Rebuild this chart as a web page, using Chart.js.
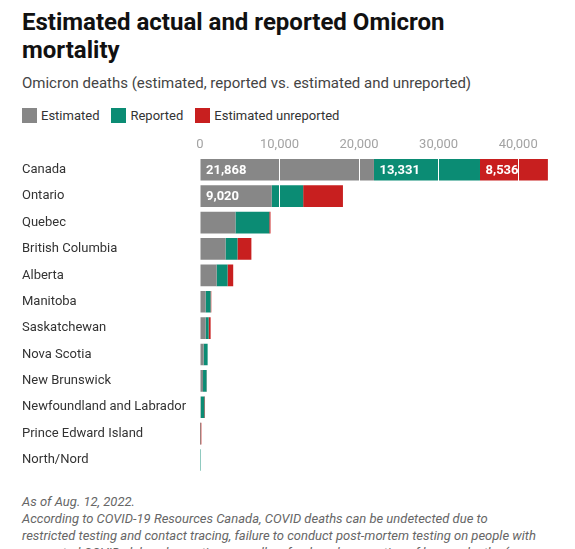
<!DOCTYPE html>
<html>
<head>
<meta charset="utf-8">
<script src="https://cdn.jsdelivr.net/npm/chart.js@4.4.0/dist/chart.umd.min.js"></script>
<style>
  body { margin: 0; background: #fff; font-family: Roboto, sans-serif; width: 575px; height: 549px; overflow: hidden; position: relative; }
  h1 { margin: 0; position: absolute; left: 22px; top: 8px; width: 500px; font-size: 24px; line-height: 28px; font-weight: 700; color: #111; }
  .sub { position: absolute; left: 22px; top: 74px; font-size: 15px; line-height: 18px; color: #444; }
  #legend { position: absolute; left: 22px; top: 108px; display: flex; font-size: 13px; line-height: 15px; color: #333; }
  #legend .item { display: flex; align-items: center; margin-right: 12px; }
  #legend .sw { width: 15px; height: 15px; margin-right: 4px; }
  #wrap { position: absolute; left: 0; top: 127px; width: 575px; height: 357px; }
  .note { position: absolute; left: 22px; top: 493px; width: 545px; font-size: 13px; line-height: 17px; font-style: italic; color: #666; white-space: nowrap; }
</style>
</head>
<body>
<h1>Estimated actual and reported Omicron mortality</h1>
<div class="sub">Omicron deaths (estimated, reported vs. estimated and unreported)</div>
<div id="legend"></div>
<div id="wrap"><canvas id="chart"></canvas></div>
<div class="note">As of Aug. 12, 2022.<br>
According to COVID-19 Resources Canada, COVID deaths can be undetected due to<br>
restricted testing and contact tracing, failure to conduct post-mortem testing on people with<br>
suspected COVID, delayed reporting, as well as frank under reporting of known deaths (e.g.</div>

<script>
const regions = ['Canada', 'Ontario', 'Quebec', 'British Columbia', 'Alberta', 'Manitoba',
    'Saskatchewan', 'Nova Scotia', 'New Brunswick', 'Newfoundland and Labrador',
    'Prince Edward Island', 'North/Nord'];
const estimated = [21868, 9020, 4460, 3210, 2090, 710, 710, 460, 380, 100, 20, 0];
const reported = [13331, 3950, 4250, 1500, 1375, 620, 375, 500, 450, 450, 30, 120];
const unreported = [8536, 5000, 150, 1750, 710, 90, 250, 0, 30, 80, 120, 0];
const seriesNames = ['Estimated', 'Reported', 'Estimated unreported'];
const seriesColors = ['#878787', '#0b8c74', '#c81f1f'];
const xTicks = [0, 10000, 20000, 30000, 40000];

const series = [estimated, reported, unreported];

let legend = document.getElementById('legend');
seriesNames.forEach((name, i) => {
    legend.innerHTML += '<div class="item"><div class="sw" style="background:' + seriesColors[i] +
        '"></div>' + name + '</div>';
});

// white value labels at the start of segments wide enough to hold them
const segmentLabels = {
    id: 'segmentLabels',
    afterDraw(chart) {
        const ctx = chart.ctx;
        ctx.save();
        ctx.font = 'bold 13px Roboto';
        ctx.fillStyle = '#fff';
        ctx.textBaseline = 'middle';
        chart.data.datasets.forEach((ds, di) => {
            chart.getDatasetMeta(di).data.forEach((bar, i) => {
                const text = ds.data[i].toLocaleString('en-US');
                const w = bar.x - bar.base;
                if (w > ctx.measureText(text).width + 16) {
                    ctx.fillText(text, bar.base + 5.5, bar.y + 0.5);
                }
            });
        });
        ctx.restore();
    }
};

let ctx = document.getElementById('chart');
let chart = new Chart(ctx, {
    type: 'bar',
    data: {
        labels: regions,
        datasets: series.map((data, i) => ({
            label: seriesNames[i],
            data: data,
            backgroundColor: seriesColors[i],
            borderWidth: 0,
            barPercentage: 0.82,
            categoryPercentage: 1,
        })),
    },
    options: {
        indexAxis: 'y',
        responsive: true,
        maintainAspectRatio: false,
        animation: false,
        layout: { padding: { left: 22, right: 25, top: 6, bottom: 1 } },
        plugins: {
            legend: { display: false },
            tooltip: { enabled: false },
        },
        scales: {
            x: {
                position: 'top',
                stacked: true,
                min: 0,
                max: 44000,
                afterBuildTicks: (scale) => {
                    scale.ticks = xTicks.map(v => ({ value: v }));
                },
                ticks: {
                    color: '#a3a3a3',
                    font: { family: 'Roboto', size: 13 },
                    padding: 4,
                    callback: (v) => v.toLocaleString('en-US'),
                },
                grid: {
                    color: (c) => c.tick && c.tick.value === 0 ? 'rgba(0,0,0,0)' : '#ffffff',
                    lineWidth: 1,
                    drawTicks: false,
                    z: 1,
                },
                border: { display: false },
            },
            y: {
                stacked: true,
                afterFit: (scale) => { scale.width = 178; },
                ticks: {
                    crossAlign: 'far',
                    color: '#333',
                    font: { family: 'Roboto', size: 13 },
                },
                grid: { display: false },
                border: { display: false },
            },
        },
    },
    plugins: [segmentLabels],
});
</script>
</body>
</html>
